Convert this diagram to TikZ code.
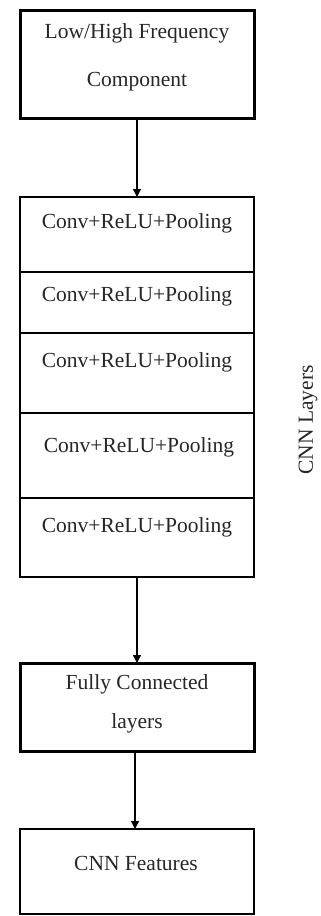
\documentclass[tikz,border=0pt]{standalone}
\usepackage{fontspec}
\setmainfont{Liberation Serif}
\usetikzlibrary{arrows.meta}
\begin{document}
\begin{tikzpicture}[x=1pt,y=-1pt,
  box/.style={draw=black, line width=2.6pt, rectangle, inner sep=0pt, outer sep=0pt, anchor=north west, minimum width=234pt},
  convbox/.style={box, line width=2.2pt},
  lbl/.style={font=\fontsize{21.5}{25}\selectfont, inner sep=0pt, text=black!85},
  arr/.style={draw=black, line width=1.4pt, -{Triangle[length=8pt,width=8pt]}}]
\useasboundingbox (0,0) rectangle (321,916);
% input box
\node[box, line width=3pt, minimum height=108pt] (inp) at (20,10) {};
\node[lbl] (inpA) at (137,33) {Low/High Frequency};
\node[lbl] (inpB) at (137,82) {Component};
% CNN stack
\node[convbox, minimum height=75pt] (c1) at (20,197) {};
\node[convbox, minimum height=61pt] (c2) at (20,272) {};
\node[convbox, minimum height=80pt] (c3) at (20,333) {};
\node[convbox, line width=2.8pt, minimum height=85pt] (c4) at (20,413) {};
\node[convbox, minimum height=79pt] (c5) at (20,498) {};
\node[lbl] (t1) at (137,223) {Conv+ReLU+Pooling};
\node[lbl] (t2) at (137,296) {Conv+ReLU+Pooling};
\node[lbl] (t3) at (137,362) {Conv+ReLU+Pooling};
\node[lbl] (t4) at (139,447) {Conv+ReLU+Pooling};
\node[lbl] (t5) at (137,527) {Conv+ReLU+Pooling};
% side label
\node[lbl, rotate=90] (side) at (308,420) {CNN Layers};
% fully connected
\node[box, line width=3pt, minimum height=88pt] (fc) at (20,663) {};
\node[lbl] (fcA) at (137,684) {Fully Connected};
\node[lbl] (fcB) at (137,723) {layers};
% features
\node[box, line width=2.6pt, minimum height=85pt] (feat) at (20,829) {};
\node[lbl] (featA) at (136,863) {CNN Features};
% arrows
\draw[arr] (inp.south -| 137,0) -- (c1.north -| 137,0);
\draw[arr] (c5.south -| 137,0) -- (fc.north -| 137,0);
\draw[arr] (fc.south -| 135,0) -- (feat.north -| 135,0);
\end{tikzpicture}
\end{document}
